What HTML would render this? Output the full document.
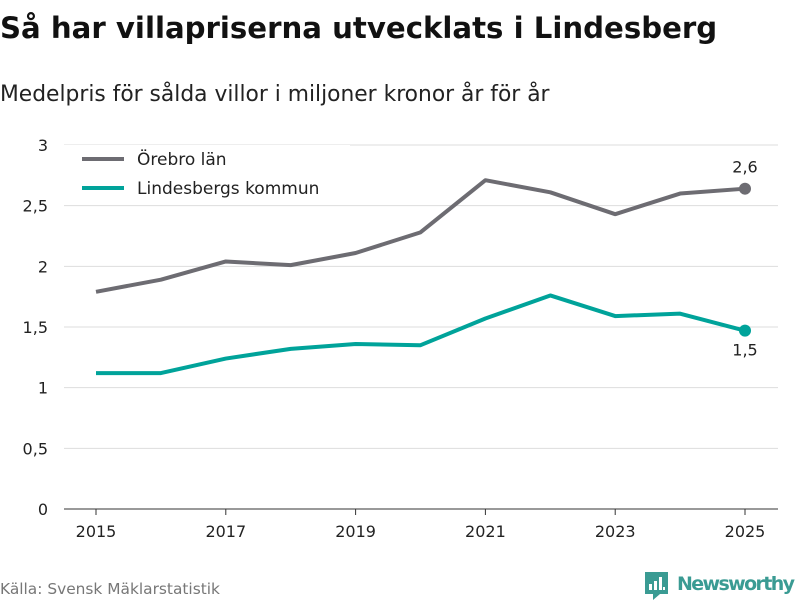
<!DOCTYPE html>
<html><head><meta charset="utf-8"><style>
body{margin:0;width:800px;height:600px;background:#fff;font-family:"DejaVu Sans","Liberation Sans",sans-serif;overflow:hidden}
</style></head><body>
<svg width="800" height="600" xmlns="http://www.w3.org/2000/svg">
<text x="0" y="38" font-size="29.2" font-weight="bold" fill="#111">Så har villapriserna utvecklats i Lindesberg</text>
<text x="0" y="101" font-size="21.8" fill="#222">Medelpris för sålda villor i miljoner kronor år för år</text>
<g id="grid"></g><g id="xaxis"></g><g id="lines"></g>
<g>
<rect x="60" y="145" width="290" height="60" fill="#fff"/>
<line x1="82" y1="159" x2="124" y2="159" stroke="#6d6c72" stroke-width="4"/>
<text x="137" y="165" font-size="17" fill="#222">Örebro län</text>
<line x1="82" y1="188" x2="124" y2="188" stroke="#00a39a" stroke-width="4"/>
<text x="137" y="194" font-size="17" fill="#222">Lindesbergs kommun</text>
</g>
<text x="0" y="594" font-size="15.4" fill="#777">Källa: Svensk Mäklarstatistik</text>
<g>
<path d="M645 572h23v22h-8l-7 6v-6h-8z" fill="#3a9b93"/>
<rect x="649" y="584" width="3" height="6" fill="#fff"/><rect x="654" y="581" width="3" height="9" fill="#fff"/><rect x="659" y="577" width="3" height="13" fill="#fff"/><rect x="663" y="587" width="2" height="3" fill="#fff"/>
<text x="677" y="590" font-size="19" font-weight="bold" fill="#3a9b93" textLength="118">Newsworthy</text>
</g>
</svg>
<script>
const years=[2015,2016,2017,2018,2019,2020,2021,2022,2023,2024,2025];
const orebro=[1.79,1.89,2.04,2.01,2.11,2.28,2.71,2.61,2.43,2.6,2.64];
const lindesberg=[1.12,1.12,1.24,1.32,1.36,1.35,1.57,1.76,1.59,1.61,1.47];
const yTicks=[0,0.5,1,1.5,2,2.5,3];
const yTickLabels=["0","0,5","1","1,5","2","2,5","3"];
const xTickLabels=["2015","2017","2019","2021","2023","2025"];
const NS="http://www.w3.org/2000/svg";
const x=y=>96+(y-2015)*64.9;
const yS=v=>509-v*121.33;
function mk(t,a,p){const e=document.createElementNS(NS,t);for(const k in a)e.setAttribute(k,a[k]);p.appendChild(e);return e;}
const grid=document.getElementById('grid');
yTicks.forEach((v,i)=>{
 const l=mk('line',{x1:64,x2:778,y1:yS(v),y2:yS(v),stroke:v===0?'#333':'#ddd','stroke-width':1},grid);
 
 
 const t=mk('text',{x:48,y:yS(v)+6,'font-size':16,fill:'#222','text-anchor':'end'},grid);
 t.textContent=yTickLabels[i];
 
 
});
const xa=document.getElementById('xaxis');
xTickLabels.forEach(s=>{
 const xv=x(+s);
 const l=mk('line',{x1:xv,x2:xv,y1:509,y2:515,stroke:'#333'},xa);
 
 
 const t=mk('text',{x:xv,y:537,'font-size':16,fill:'#222','text-anchor':'middle'},xa);
 t.textContent=s;
 
 
});
const lg=document.getElementById('lines');
function series(vals,col,name,labelDy){
 const p=mk('polyline',{points:vals.map((v,i)=>x(years[i])+','+yS(v)).join(' '),fill:'none',stroke:col,'stroke-width':4,'stroke-linejoin':'round'},lg);
 
 
 const n=vals.length-1;
 const c=mk('circle',{cx:x(years[n]),cy:yS(vals[n]),r:6,fill:col},lg);
 
 
 const t=mk('text',{x:x(years[n]),y:yS(vals[n])+labelDy,'font-size':16,fill:'#222','text-anchor':'middle'},lg);
 t.textContent=vals[n].toFixed(1).replace('.',',');
 
 
}
series(orebro,'#6d6c72','orebro',-16);
series(lindesberg,'#00a39a','lindesberg',25);
</script>
</body></html>
